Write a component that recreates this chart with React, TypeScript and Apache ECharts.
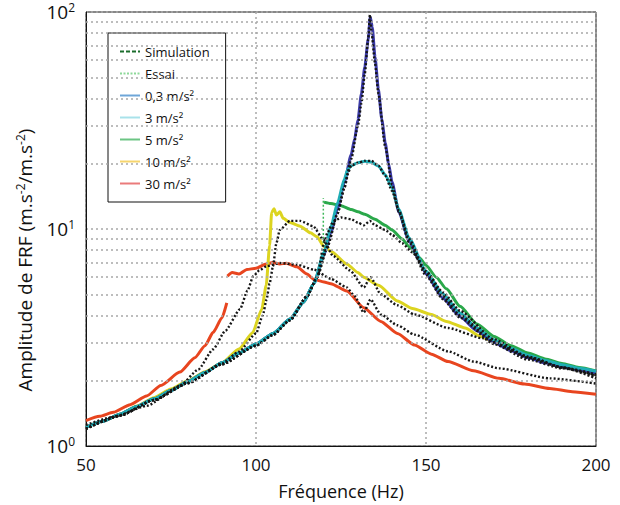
import { useEffect, useRef } from 'react';
import * as echarts from 'echarts';

const FONT = '"Open Sans", "Noto Sans", sans-serif';

// Axis ticks / labels
const xTicks = [50, 100, 150, 200];
const yExponents = ['0', '1', '2'];
const minorY = [2, 3, 4, 5, 6, 7, 8, 9, 20, 30, 40, 50, 60, 70, 80, 90];

// Legend
const legendNames = ['Simulation', 'Essai', '0,3 m/s²', '3 m/s²', '5 m/s²', '10 m/s²', '30 m/s²'];

// 0,3 m/s² – essai
const fE03 = [50, 55, 60, 65, 70, 75, 80, 85, 90, 95, 100, 105, 110, 114, 117, 120, 122, 124, 126, 128, 129, 130, 131, 132, 133, 133.6, 134.2, 135, 136, 137, 138, 139, 140, 142, 145, 148, 150, 155, 160, 165, 170, 175, 180, 185, 190, 195, 200];
const aE03 = [1.22, 1.3, 1.4, 1.52, 1.65, 1.8, 1.98, 2.18, 2.42, 2.68, 2.95, 3.3, 3.85, 4.6, 5.6, 7.6, 9.6, 12.5, 16.5, 22, 26, 32, 42, 56, 75, 95, 85, 62, 44, 32, 25, 20, 16.5, 12, 8.8, 7.2, 6.2, 4.8, 3.95, 3.4, 3.0, 2.75, 2.55, 2.42, 2.32, 2.24, 2.17];
// 0,3 m/s² – simulation
const fS03 = [50, 60, 70, 80, 90, 100, 105, 110, 115, 118, 121, 124, 126, 128, 130, 131, 132, 133, 133.5, 134, 135, 136, 138, 140, 142, 145, 150, 155, 160, 170, 180, 190, 200];
const aS03 = [1.2, 1.38, 1.63, 1.95, 2.38, 2.9, 3.25, 3.8, 4.9, 6.0, 8.3, 11.8, 15.5, 21, 30, 38, 52, 75, 97, 80, 58, 42, 24, 16, 12, 8.7, 6.1, 4.75, 3.9, 2.95, 2.5, 2.28, 2.12];

// 3 m/s² – essai
const fE3 = [50, 55, 60, 65, 70, 75, 80, 85, 90, 95, 100, 105, 110, 114, 117, 120, 122, 124, 126, 127, 128, 130, 132, 134, 136, 138, 140, 142, 145, 150, 155, 160, 165, 170, 175, 180, 185, 190, 195, 200];
const aE3 = [1.22, 1.3, 1.4, 1.52, 1.65, 1.8, 1.98, 2.18, 2.42, 2.68, 2.95, 3.3, 3.85, 4.6, 5.6, 7.8, 10.2, 13.2, 17, 18.8, 19.6, 20.2, 20.5, 20.3, 19.5, 17.8, 15.5, 12.3, 9.1, 6.4, 5.0, 4.1, 3.5, 3.08, 2.82, 2.62, 2.48, 2.37, 2.28, 2.21];
// 3 m/s² – simulation
const fS3 = [50, 60, 70, 80, 90, 100, 105, 110, 115, 118, 121, 124, 126, 127, 128, 130, 132, 134, 136, 138, 140, 142, 145, 150, 155, 160, 170, 180, 190, 200];
const aS3 = [1.2, 1.38, 1.63, 1.95, 2.38, 2.9, 3.25, 3.8, 4.9, 6.0, 8.3, 11.8, 15.5, 18, 19.6, 20.2, 20.6, 20.6, 19.6, 17.6, 15.0, 12.2, 9.0, 6.3, 4.9, 4.0, 3.0, 2.55, 2.3, 2.14];

// 5 m/s² – essai (low branch, jump, high branch)
const fE5a = [50, 55, 60, 65, 70, 75, 80, 85, 90, 95, 100, 105, 110, 114, 117, 119.8];
const aE5a = [1.22, 1.3, 1.4, 1.52, 1.65, 1.8, 1.98, 2.18, 2.42, 2.68, 2.95, 3.3, 3.85, 4.6, 5.6, 7.6];
const fE5jump = [119.8, 119.8];
const aE5jump = [7.6, 13.9];
const fE5b = [120, 122, 125, 128, 130, 132, 135, 138, 140, 143, 145, 148, 150, 153, 156, 160, 165, 170, 175, 180, 185, 190, 195, 200];
const aE5b = [13.3, 13.1, 12.8, 12.3, 12.0, 11.7, 11.1, 10.4, 9.9, 9.0, 8.3, 7.4, 6.8, 6.0, 5.3, 4.4, 3.65, 3.2, 2.9, 2.68, 2.52, 2.4, 2.3, 2.22];
// 5 m/s² – simulation
const fS5 = [50, 60, 70, 80, 90, 100, 105, 110, 115, 118, 120, 121, 122.7, 125, 128, 130, 131.7, 133.5, 135, 138, 140, 143, 146, 150, 155, 160, 170, 180, 190, 200];
const aS5 = [1.2, 1.38, 1.63, 1.95, 2.38, 2.9, 3.25, 3.8, 4.9, 6.0, 8.6, 9.6, 10.8, 11.3, 11.1, 10.7, 10.4, 10.9, 10.4, 9.9, 9.4, 8.6, 7.8, 6.4, 5.1, 4.2, 3.1, 2.58, 2.3, 2.1];

// 10 m/s² – essai
const fE10 = [50, 55, 60, 65, 70, 75, 80, 85, 90, 95, 99, 101.7, 103, 104, 104.6, 105.3, 106, 107, 108, 110, 113, 116, 118, 120, 122, 126.7, 130, 131.7, 136, 141.6, 146, 151.6, 156, 161.5, 166, 171.5, 180, 190, 200];
const aE10 = [1.22, 1.3, 1.4, 1.53, 1.67, 1.83, 2.0, 2.2, 2.42, 2.8, 3.33, 4.27, 5.5, 8.4, 11.9, 12.4, 11.6, 12.0, 11.2, 10.7, 10.3, 9.6, 9.2, 8.3, 7.9, 6.9, 6.3, 6.0, 5.5, 4.66, 4.3, 4.04, 3.75, 3.5, 3.2, 2.95, 2.62, 2.35, 2.15];
// 10 m/s² – simulation
const fS10 = [50, 60, 70, 80, 90, 95, 100, 102, 103.1, 104, 105, 106, 107, 110, 113, 116.8, 119.8, 122.7, 127.6, 131.7, 133.7, 136.7, 141.6, 146.6, 156.5, 166.5, 181.5, 190, 200];
const aS10 = [1.2, 1.38, 1.63, 1.95, 2.4, 2.72, 3.3, 4.0, 4.73, 5.6, 6.74, 8.6, 9.9, 10.9, 10.9, 10.3, 8.94, 7.5, 6.45, 5.38, 6.0, 5.0, 4.45, 4.04, 3.5, 3.14, 2.54, 2.3, 2.05];

// 30 m/s² – essai (two branches)
const fE30a = [50, 54, 58, 63, 67.8, 72, 77.6, 82, 85, 87.4, 90, 91.4];
const aE30a = [1.31, 1.37, 1.43, 1.55, 1.7, 1.9, 2.19, 2.55, 2.9, 3.34, 3.9, 4.57];
const fE30b = [91.6, 93, 95, 97.3, 100, 103, 105, 107, 109, 112, 115, 117, 120, 122, 126.7, 131.7, 136.7, 141.6, 146.6, 151.6, 156.5, 164, 171.5, 179, 186.4, 193, 200];
const aE30b = [6.06, 6.3, 6.2, 6.5, 6.6, 6.9, 7.0, 6.9, 6.95, 6.7, 6.2, 5.86, 5.7, 5.6, 5.18, 4.34, 3.75, 3.3, 2.92, 2.65, 2.45, 2.22, 2.05, 1.93, 1.84, 1.78, 1.73];
// 30 m/s² – simulation
const fS30 = [50, 58, 67.8, 77.6, 83, 87.4, 91, 95.3, 97.5, 99.2, 101, 103.1, 107, 112, 117, 122, 126.7, 129, 131.7, 133.7, 136.7, 141.6, 146.6, 156.5, 164, 171.5, 186.4, 200];
const aS30 = [1.25, 1.36, 1.53, 1.89, 2.25, 2.79, 3.4, 4.27, 5.2, 6.06, 6.45, 6.74, 6.97, 6.85, 6.5, 5.9, 5.38, 4.9, 4.12, 4.74, 4.04, 3.6, 3.26, 2.73, 2.45, 2.28, 2.05, 1.94];

const pairs = (f: number[], a: number[]) => f.map((x, i) => [x, a[i]]);

const legendStyles: Record<string, any> = {
  'Simulation': { color: '#1b6d2c', width: 3, type: [4, 2] },
  'Essai': { color: '#8ed99a', width: 2, type: [2, 1.5] },
  '0,3 m/s²': { color: '#6ea6d8', width: 2.5, type: 'solid' },
  '3 m/s²': { color: '#a9e2ea', width: 2.5, type: 'solid' },
  '5 m/s²': { color: '#6cc584', width: 2.5, type: 'solid' },
  '10 m/s²': { color: '#f6d56c', width: 2.5, type: 'solid' },
  '30 m/s²': { color: '#ea7b7b', width: 2.5, type: 'solid' },
};

function essai(name: string, f: number[], a: number[], color: string, extra: any = {}) {
  return {
    name,
    type: 'line',
    data: pairs(f, a),
    symbol: 'none',
    smooth: 0.2,
    smoothMonotone: 'x',
    lineStyle: { color, width: 3, ...extra },
    z: 3,
    silent: true,
  };
}

function simu(name: string, f: number[], a: number[]) {
  return {
    name,
    type: 'line',
    data: pairs(f, a),
    symbol: 'none',
    smooth: 0.2,
    smoothMonotone: 'x',
    lineStyle: { color: '#161616', width: 2.4, type: [2, 2] },
    z: 4,
    silent: true,
  };
}

export default function App() {
  const ref = useRef<HTMLDivElement>(null);
  useEffect(() => {
    if (!ref.current) return;
    const chart = echarts.init(ref.current, undefined, { renderer: 'svg' });
    const legendSeries = legendNames.map((n) => ({
      name: n,
      type: 'line',
      data: [[400, 1]],
      symbol: 'none',
      showSymbol: false,
      silent: true,
      itemStyle: { color: legendStyles[n].color },
      lineStyle: legendStyles[n],
    }));
    const option: any = {
      animation: false,
      textStyle: { fontFamily: FONT },
      grid: {
        left: 86, top: 12, width: 510, height: 435,
        show: true, borderColor: '#111', borderWidth: 1, backgroundColor: 'transparent',
      },
      legend: {
        data: legendNames,
        orient: 'vertical',
        left: 108, top: 33,
        padding: [12, 16, 12, 11],
        itemGap: 9, itemWidth: 20, itemHeight: 14,
        borderColor: '#111', borderWidth: 1, borderRadius: 0,
        backgroundColor: '#fff',
        selectedMode: false,
        itemStyle: { opacity: 0 },
        textStyle: { fontSize: 13, color: '#111', fontFamily: FONT },
      },
      xAxis: {
        type: 'value', min: xTicks[0], max: xTicks[xTicks.length - 1], interval: 50,
        axisLine: { show: true, lineStyle: { color: '#111', width: 1 } },
        axisTick: { show: false },
        axisLabel: { color: '#111', fontSize: 17, margin: 10, fontFamily: FONT },
        splitLine: { show: true, lineStyle: { color: '#a8a8a8', type: [2, 3], width: 1.5 } },
        name: 'Fréquence (Hz)', nameLocation: 'middle', nameGap: 36,
        nameTextStyle: { fontSize: 18, color: '#111', fontFamily: FONT },
      },
      yAxis: {
        type: 'log', logBase: 10, min: 1, max: 100,
        axisLine: { show: true, lineStyle: { color: '#111', width: 1 } },
        axisTick: { show: false },
        axisLabel: {
          margin: 11,
          formatter: (v: number) => '{b|10}{s|' + yExponents[Math.round(Math.log10(v))] + '}',
          rich: {
            b: { fontSize: 19, color: '#111', fontFamily: FONT },
            s: { fontSize: 12, color: '#111', fontFamily: FONT, padding: [0, 0, 10, 0] },
          },
        },
        splitLine: { show: true, lineStyle: { color: '#a8a8a8', type: [2, 3], width: 1.5 } },
        name: 'Amplitude de FRF (m.s{s|-2}/m.s{s|-2})', nameLocation: 'middle', nameGap: 50,
        nameTextStyle: {
          fontSize: 19, color: '#111', fontFamily: FONT,
          padding: [0, 62, 0, 0],
          rich: { s: { fontSize: 12, color: '#111', fontFamily: FONT, padding: [0, 0, 10, 0] } },
        },
      },
      series: [
        {
          name: 'grid-minor', type: 'line', data: [[50, 1]], symbol: 'none', silent: true, z: 1,
          lineStyle: { opacity: 0 },
          markLine: {
            silent: true, symbol: 'none', label: { show: false },
            lineStyle: { color: '#a8a8a8', type: [2, 3], width: 1.5 },
            data: minorY.map((v) => ({ yAxis: v })),
          },
        },
        ...legendSeries,
        essai('e30a', fE30a, aE30a, '#e8451f'),
        essai('e30b', fE30b, aE30b, '#e8451f'),
        essai('e10', fE10, aE10, '#dcd420'),
        essai('e5a', fE5a, aE5a, '#2aa84a'),
        essai('e5jump', fE5jump, aE5jump, '#3fb85a', { width: 1.5, type: [2, 2] }),
        essai('e5b', fE5b, aE5b, '#2aa84a'),
        essai('e03', fE03, aE03, '#3b3aa6'),
        essai('e3', fE3, aE3, '#1fadb5'),
        simu('s30', fS30, aS30),
        simu('s10', fS10, aS10),
        simu('s5', fS5, aS5),
        simu('s3', fS3, aS3),
        simu('s03', fS03, aS03),
      ],
    };
    chart.setOption(option);
    return () => chart.dispose();
  }, []);
  return (
    <div
      ref={ref}
      style={{ position: 'fixed', left: 0, top: 0, width: 620, height: 505, background: '#fff' }}
    />
  );
}
